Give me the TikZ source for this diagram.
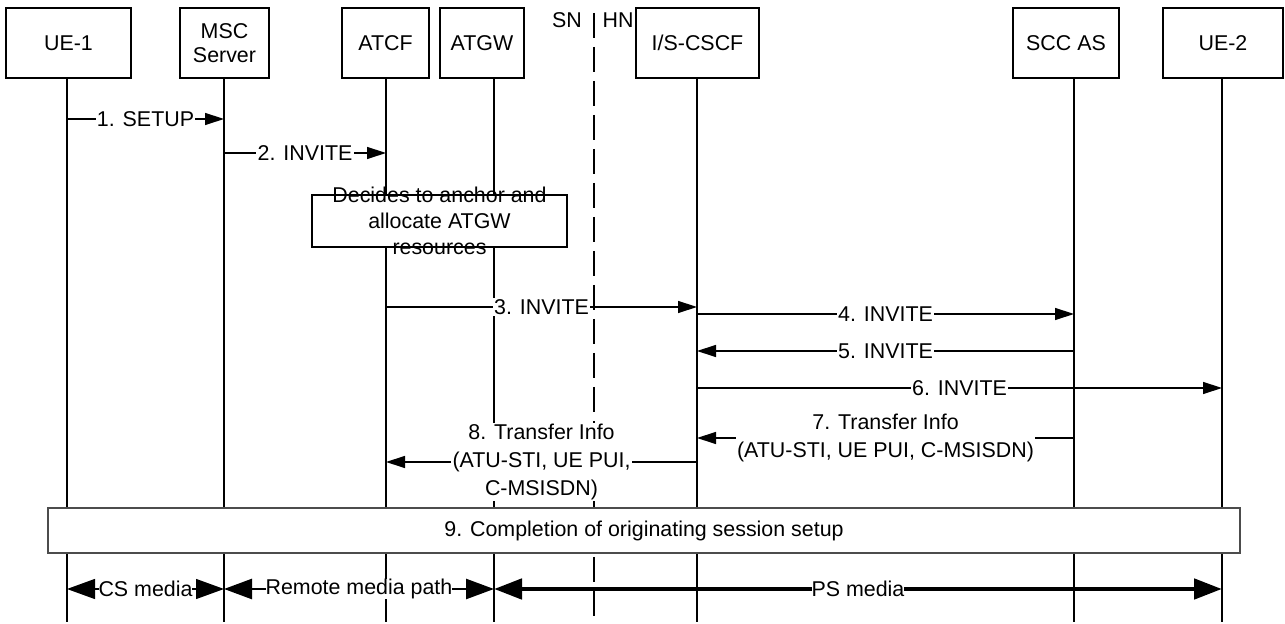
\documentclass[tikz,border=0pt]{standalone}
\usepackage{fontspec}
\setmainfont{Liberation Sans}
\usetikzlibrary{arrows.meta,positioning}
\tikzset{
  >={Triangle[length=9.5pt,width=6pt]},
}

\begin{document}
\begin{tikzpicture}[
  x=0.5pt,y=-0.5pt,
  font=\fontsize{10.7}{13}\selectfont,
  line width=0.65pt,
  hdr/.style={draw, fill=white, align=center, inner sep=1pt, font=\fontsize{10.7}{12}\selectfont},
  lbl/.style={fill=white, inner sep=0.6pt, align=center, font=\fontsize{10.7}{13.8}\selectfont},
  msg/.style={->},
  media/.style={<->, >={Triangle[length=14pt,width=10pt]}},
]
\useasboundingbox (0,0) rectangle (1285,624);

% entities
\node[hdr, minimum width=62.5pt, minimum height=35pt] (ue1box) at (68.5,43) {UE-1};
\node[hdr, minimum width=44.5pt, minimum height=35pt] (mscbox) at (224.5,43) {MSC\\Server};
\node[hdr, minimum width=43.5pt, minimum height=35pt] (atcfbox) at (385.5,43) {ATCF};
\node[hdr, minimum width=42pt, minimum height=35pt] (atgwbox) at (482,43) {ATGW};
\node[hdr, minimum width=61.5pt, minimum height=35pt] (cscfbox) at (697.5,43) {I/S-CSCF};
\node[hdr, minimum width=53pt, minimum height=35pt] (sccbox) at (1066,43) {SCC AS};
\node[hdr, minimum width=60pt, minimum height=35pt] (ue2box) at (1223,43) {UE-2};

\node (sn) at (567,20) {SN};
\node (hn) at (618,20) {HN};

% lifelines
\coordinate (ue1) at (67,78);
\coordinate (msc) at (224,78);
\coordinate (atcf) at (386,78);
\coordinate (atgw) at (494,78);
\coordinate (cscf) at (697,78);
\coordinate (scc) at (1074,78);
\coordinate (ue2) at (1222,78);
\coordinate (div) at (594,13);
\coordinate (bot) at (0,622);

\foreach \l in {ue1,msc,atcf,atgw,cscf,scc,ue2}
  \draw (\l) -- (\l |- bot);
\draw[dash pattern=on 12.5pt off 4.5pt] (div) -- (div |- bot);

% anchoring decision
\node[draw, fill=white, minimum width=127.5pt, minimum height=26pt] (decbox) at (439.5,221) {};
\node[align=center] (dectext) at (decbox) {Decides to anchor and\\allocate ATGW\\resources};

% messages
\coordinate (m1) at (0,119);
\coordinate (m2) at (0,153);
\coordinate (m3) at (0,307);
\coordinate (m4) at (0,314);
\coordinate (m5) at (0,351);
\coordinate (m6) at (0,388);
\coordinate (m7) at (0,438);
\coordinate (m8) at (0,462);

\draw[msg] (ue1 |- m1) -- node[lbl] {1. SETUP} (msc |- m1);
\draw[msg] (msc |- m2) -- node[lbl] {2. INVITE} (atcf |- m2);
\draw[msg] (atcf |- m3) -- node[lbl] {3. INVITE} (cscf |- m3);
\draw[msg] (cscf |- m4) -- node[lbl] {4. INVITE} (scc |- m4);
\draw[msg] (scc |- m5) -- node[lbl] {5. INVITE} (cscf |- m5);
\draw[msg] (cscf |- m6) -- node[lbl] {6. INVITE} (ue2 |- m6);
\draw[msg] (scc |- m7) -- node[lbl] {7. Transfer Info\\(ATU-STI, UE PUI, C-MSISDN)} (cscf |- m7);
\draw[msg] (cscf |- m8) -- node[lbl] {8. Transfer Info\\(ATU-STI, UE PUI,\\C-MSISDN)} (atcf |- m8);

% completion
\node[draw=black!70, fill=white, minimum width=596pt, minimum height=22.5pt] (done) at (644,530.5) {9. Completion of originating session setup};

% media paths
\coordinate (md) at (0,589);
\draw[media] (ue1 |- md) -- node[lbl, inner sep=0pt] {CS media} (msc |- md);
\draw[media, line width=1.3pt] (msc |- md) -- node[lbl, inner sep=0pt] {Remote media path} (atgw |- md);
\draw[media, line width=2.4pt] (atgw |- md) -- node[lbl, inner sep=0pt] {PS media} (ue2 |- md);

\end{tikzpicture}
\end{document}
